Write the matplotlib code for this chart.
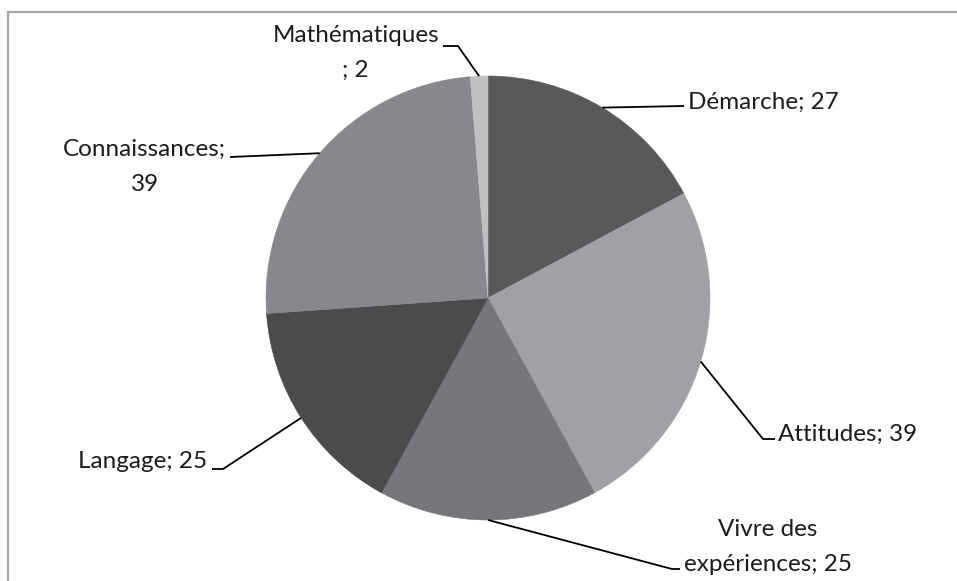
import numpy as np
import matplotlib
matplotlib.use("Agg")
import matplotlib.pyplot as plt
from matplotlib.patches import Rectangle

# donnees du graphique
categories = ["Démarche", "Attitudes", "Vivre des expériences", "Langage", "Connaissances", "Mathématiques"]
valeurs = [27, 39, 25, 25, 39, 2]
couleurs = ["#59595b", "#a0a1a4", "#76777a", "#4a4b4d", "#87888b", "#bfc0c2"]

W, H = 957, 581
fig = plt.figure(figsize=(W / 100, H / 100), dpi=100)
ax = fig.add_axes([0, 0, 1, 1])

# cadre gris
ax.add_patch(Rectangle((8, -20), W + 40, H - 12 + 20, fill=False, edgecolor="#a6a6a6", lw=1.6))

cx, cy, r = 488, H - 298, 222
wedges, _ = ax.pie(valeurs, colors=couleurs, startangle=90, counterclock=False,
                   center=(cx, cy), radius=r, frame=True)
for w, c in zip(wedges, couleurs):
    w.set_edgecolor(c)
    w.set_linewidth(0.4)
ax.set_xlim(0, W)
ax.set_ylim(0, H)
ax.set_aspect("equal")
ax.axis("off")

# position des etiquettes (en pixels depuis le haut) : coude, fin du trait, texte
etiq = [
    dict(coude=None, fin=(684, 106), txt=(688, 102), ha="left", sep="; "),
    dict(coude=(763, 439), fin=(775, 439), txt=(778, 434), ha="left", sep="; "),
    dict(coude=(672, 569), fin=(680, 569), txt=(684, 547), ha="left", sep="; "),
    dict(coude=(223, 469), fin=(212, 469), txt=(207, 462), ha="right", sep="; "),
    dict(coude=None, fin=(230, 157), txt=(226, 167), ha="right", sep=";\n"),
    dict(coude=(458, 46), fin=(443, 46), txt=(439, 53), ha="right", sep="\n; "),
]

for w, e, cat, v in zip(wedges, etiq, categories, valeurs):
    ang = np.deg2rad((w.theta1 + w.theta2) / 2)
    x0 = cx + r * np.cos(ang)
    y0 = cy + r * np.sin(ang)
    xs, ys = [x0], [y0]
    if e["coude"] is not None:
        xs.append(e["coude"][0]); ys.append(H - e["coude"][1])
    xs.append(e["fin"][0]); ys.append(H - e["fin"][1])
    ax.plot(xs, ys, color="black", lw=1.3, solid_capstyle="butt")
    texte = cat.replace("Vivre des ", "Vivre des\n") + e["sep"] + str(v)
    ax.text(e["txt"][0], H - e["txt"][1], texte, ha=e["ha"], va="center",
            multialignment="center", fontsize=17.5, family="Lato",
            color="#1c1c1c", linespacing=1.85)

fig.savefig("out.png", dpi=100)
